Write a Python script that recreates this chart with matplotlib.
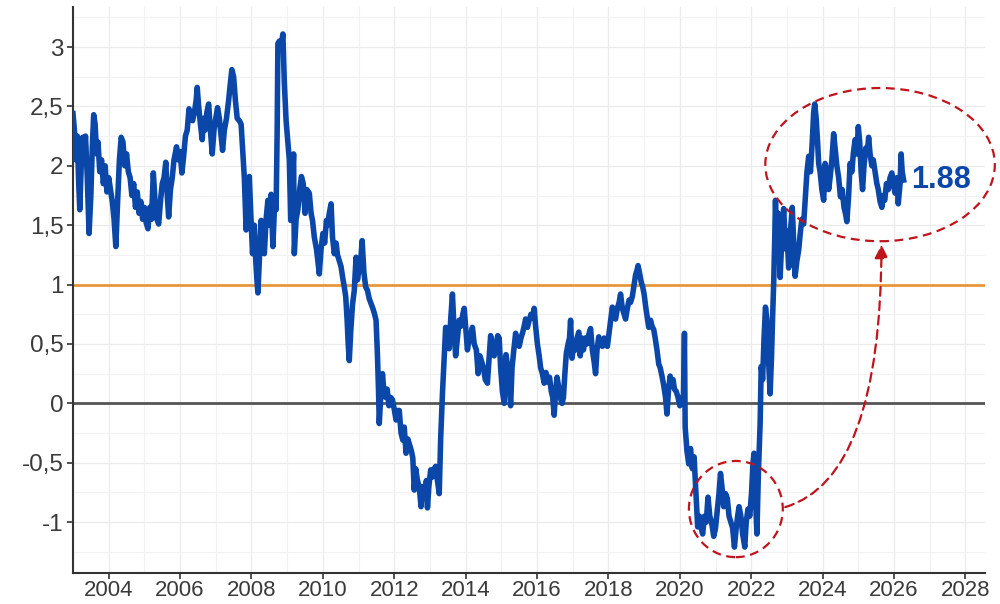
import matplotlib.pyplot as plt
from matplotlib.patches import Ellipse

plt.rcParams['font.family'] = ['Liberation Sans', 'DejaVu Sans']

# decimal year, value
t = [2003.00, 2003.04, 2003.08, 2003.12, 2003.16, 2003.19, 2003.23, 2003.27, 2003.31, 2003.35,
     2003.40, 2003.45, 2003.50, 2003.54, 2003.58, 2003.62, 2003.66, 2003.70, 2003.75, 2003.80,
     2003.85, 2003.90, 2003.95, 2004.00, 2004.05, 2004.10, 2004.15, 2004.20, 2004.25, 2004.30,
     2004.35, 2004.40, 2004.45, 2004.50, 2004.55, 2004.60, 2004.65, 2004.70, 2004.75, 2004.80,
     2004.85, 2004.90, 2004.95, 2005.00, 2005.05, 2005.10, 2005.15, 2005.20, 2005.25, 2005.30,
     2005.35, 2005.40, 2005.45, 2005.50, 2005.55, 2005.60, 2005.64, 2005.68, 2005.73, 2005.78,
     2005.83, 2005.90, 2005.95, 2006.00, 2006.05, 2006.10, 2006.15, 2006.20, 2006.25, 2006.30,
     2006.35, 2006.40, 2006.45, 2006.48, 2006.52, 2006.57, 2006.62, 2006.66, 2006.70, 2006.75,
     2006.80, 2006.85, 2006.90, 2006.95, 2007.00, 2007.05, 2007.10, 2007.15, 2007.19, 2007.24,
     2007.30, 2007.36, 2007.41, 2007.45, 2007.50, 2007.55, 2007.60, 2007.66, 2007.71, 2007.76,
     2007.80, 2007.85, 2007.90, 2007.94, 2007.98, 2008.03, 2008.08, 2008.12, 2008.15, 2008.18,
     2008.22, 2008.27, 2008.31, 2008.36, 2008.41, 2008.46, 2008.50, 2008.55, 2008.60, 2008.65,
     2008.69, 2008.72, 2008.74, 2008.78, 2008.83, 2008.88, 2008.92, 2008.97, 2009.02, 2009.06,
     2009.10, 2009.14, 2009.18, 2009.20, 2009.25, 2009.30, 2009.35, 2009.40, 2009.45, 2009.50,
     2009.55, 2009.62, 2009.67, 2009.71, 2009.76, 2009.82, 2009.86, 2009.90, 2009.95, 2010.00,
     2010.05, 2010.10, 2010.13, 2010.18, 2010.23, 2010.27, 2010.32, 2010.37, 2010.41, 2010.46,
     2010.51, 2010.56, 2010.60, 2010.64, 2010.68, 2010.71, 2010.74, 2010.78, 2010.83, 2010.88,
     2010.93, 2010.97, 2011.02, 2011.06, 2011.10, 2011.15, 2011.20, 2011.25, 2011.30, 2011.35,
     2011.40, 2011.45, 2011.49, 2011.53, 2011.56, 2011.58, 2011.62, 2011.67, 2011.71, 2011.76,
     2011.80, 2011.85, 2011.90, 2011.95, 2012.00, 2012.05, 2012.10, 2012.14, 2012.19, 2012.24,
     2012.28, 2012.33, 2012.38, 2012.43, 2012.48, 2012.52, 2012.56, 2012.60, 2012.65, 2012.70,
     2012.75, 2012.80, 2012.85, 2012.90, 2012.93, 2012.97, 2013.02, 2013.07, 2013.12, 2013.16,
     2013.21, 2013.26, 2013.30, 2013.35, 2013.40, 2013.44, 2013.49, 2013.54, 2013.58, 2013.63,
     2013.68, 2013.72, 2013.77, 2013.82, 2013.87, 2013.92, 2013.96, 2014.01, 2014.05, 2014.10,
     2014.15, 2014.19, 2014.24, 2014.30, 2014.35, 2014.40, 2014.45, 2014.50, 2014.55, 2014.61,
     2014.65, 2014.70, 2014.75, 2014.80, 2014.85, 2014.90, 2014.94, 2014.98, 2015.03, 2015.08,
     2015.13, 2015.18, 2015.22, 2015.26, 2015.30, 2015.35, 2015.40, 2015.45, 2015.50, 2015.55,
     2015.60, 2015.64, 2015.68, 2015.73, 2015.78, 2015.83, 2015.88, 2015.92, 2015.96, 2016.01,
     2016.06, 2016.10, 2016.15, 2016.20, 2016.25, 2016.30, 2016.35, 2016.40, 2016.44, 2016.48,
     2016.52, 2016.56, 2016.60, 2016.65, 2016.70, 2016.74, 2016.78, 2016.82, 2016.87, 2016.91,
     2016.94, 2016.98, 2017.03, 2017.08, 2017.12, 2017.17, 2017.21, 2017.26, 2017.30, 2017.35,
     2017.40, 2017.45, 2017.50, 2017.55, 2017.60, 2017.64, 2017.68, 2017.73, 2017.78, 2017.83,
     2017.88, 2017.93, 2017.97, 2018.02, 2018.06, 2018.11, 2018.15, 2018.20, 2018.25, 2018.30,
     2018.34, 2018.39, 2018.44, 2018.48, 2018.53, 2018.58, 2018.62, 2018.67, 2018.72, 2018.76,
     2018.80, 2018.83, 2018.87, 2018.92, 2018.96, 2019.00, 2019.05, 2019.09, 2019.13, 2019.18,
     2019.22, 2019.27, 2019.31, 2019.36, 2019.41, 2019.45, 2019.50, 2019.55, 2019.60, 2019.64,
     2019.68, 2019.73, 2019.77, 2019.81, 2019.85, 2019.90, 2019.95, 2020.00, 2020.05, 2020.10,
     2020.13, 2020.15, 2020.20, 2020.25, 2020.30, 2020.35, 2020.40, 2020.44, 2020.50, 2020.55,
     2020.60, 2020.64, 2020.69, 2020.74, 2020.79, 2020.84, 2020.89, 2020.95, 2021.00, 2021.05,
     2021.10, 2021.14, 2021.18, 2021.23, 2021.28, 2021.33, 2021.38, 2021.43, 2021.48, 2021.53,
     2021.58, 2021.62, 2021.66, 2021.71, 2021.76, 2021.82, 2021.86, 2021.91, 2021.96, 2022.01,
     2022.05, 2022.08, 2022.12, 2022.16, 2022.20, 2022.25, 2022.28, 2022.32, 2022.36, 2022.40,
     2022.44, 2022.48, 2022.53, 2022.57, 2022.60, 2022.63, 2022.66, 2022.68, 2022.72, 2022.76,
     2022.81, 2022.86, 2022.91, 2022.96, 2023.00, 2023.05, 2023.10, 2023.15, 2023.19, 2023.23,
     2023.28, 2023.33, 2023.38, 2023.42, 2023.47, 2023.52, 2023.56, 2023.61, 2023.66, 2023.71,
     2023.75, 2023.78, 2023.82, 2023.86, 2023.89, 2023.93, 2023.98, 2024.03, 2024.07, 2024.12,
     2024.17, 2024.21, 2024.26, 2024.31, 2024.35, 2024.40, 2024.45, 2024.50, 2024.55, 2024.60,
     2024.64, 2024.68, 2024.73, 2024.77, 2024.82, 2024.86, 2024.91, 2024.96, 2025.00, 2025.04,
     2025.08, 2025.12, 2025.16, 2025.21, 2025.25, 2025.29, 2025.33, 2025.38, 2025.42, 2025.47,
     2025.52, 2025.56, 2025.61, 2025.66, 2025.70, 2025.74, 2025.79, 2025.84, 2025.89, 2025.94,
     2025.98, 2026.03, 2026.08, 2026.12, 2026.17, 2026.20, 2026.23, 2026.27]

v = [2.44, 2.30, 2.05, 2.25, 1.85, 1.63, 2.00, 2.24, 2.10, 2.25,
     1.90, 1.43, 1.75, 2.15, 2.43, 2.35, 2.10, 2.20, 1.95, 2.05,
     1.85, 2.00, 1.78, 1.90, 1.80, 1.70, 1.55, 1.32, 1.70, 2.05,
     2.24, 2.20, 2.00, 2.10, 1.95, 1.90, 1.75, 1.85, 1.65, 1.78,
     1.60, 1.70, 1.55, 1.65, 1.52, 1.47, 1.65, 1.55, 1.94, 1.70,
     1.55, 1.51, 1.70, 1.85, 1.90, 2.03, 1.75, 1.57, 1.80, 1.90,
     2.05, 2.16, 2.05, 2.12, 1.94, 2.08, 2.25, 2.30, 2.48, 2.40,
     2.38, 2.45, 2.55, 2.66, 2.50, 2.35, 2.22, 2.40, 2.30, 2.45,
     2.52, 2.30, 2.10, 2.30, 2.40, 2.49, 2.40, 2.25, 2.13, 2.30,
     2.40, 2.55, 2.70, 2.81, 2.75, 2.55, 2.40, 2.38, 2.35, 2.10,
     1.90, 1.46, 1.75, 1.91, 1.60, 1.26, 1.50, 1.20, 1.05, 0.93,
     1.20, 1.54, 1.30, 1.26, 1.55, 1.71, 1.50, 1.76, 1.32, 1.70,
     1.63, 2.30, 3.03, 3.05, 3.00, 3.11, 2.70, 2.38, 2.20, 2.05,
     1.54, 1.80, 2.10, 1.26, 1.55, 1.63, 1.80, 1.91, 1.85, 1.60,
     1.80, 1.77, 1.60, 1.54, 1.40, 1.30, 1.20, 1.09, 1.30, 1.43,
     1.35, 1.54, 1.50, 1.60, 1.68, 1.40, 1.26, 1.35, 1.25, 1.20,
     1.15, 1.05, 0.98, 0.90, 0.70, 0.50, 0.36, 0.60, 0.83, 0.95,
     1.23, 1.04, 1.15, 1.20, 1.37, 1.10, 0.98, 0.95, 0.88, 0.84,
     0.80, 0.75, 0.70, 0.40, 0.10, -0.17, 0.05, 0.25, 0.10, 0.05,
     0.12, -0.02, 0.05, 0.03, -0.05, -0.14, -0.06, -0.06, -0.25, -0.31,
     -0.20, -0.42, -0.30, -0.35, -0.40, -0.46, -0.73, -0.55, -0.65, -0.70,
     -0.87, -0.70, -0.78, -0.65, -0.88, -0.70, -0.56, -0.62, -0.55, -0.53,
     -0.65, -0.76, -0.30, 0.08, 0.40, 0.64, 0.55, 0.46, 0.70, 0.92,
     0.60, 0.40, 0.55, 0.70, 0.65, 0.75, 0.80, 0.60, 0.45, 0.55,
     0.58, 0.64, 0.50, 0.45, 0.25, 0.40, 0.35, 0.30, 0.20, 0.17,
     0.35, 0.57, 0.45, 0.40, 0.50, 0.57, 0.55, 0.30, 0.10, 0.00,
     0.41, 0.30, 0.20, -0.02, 0.30, 0.45, 0.59, 0.50, 0.48, 0.55,
     0.60, 0.65, 0.71, 0.64, 0.70, 0.75, 0.72, 0.80, 0.65, 0.50,
     0.40, 0.30, 0.25, 0.17, 0.26, 0.18, 0.22, 0.10, 0.05, -0.10,
     0.10, 0.22, 0.15, 0.05, 0.00, 0.05, 0.25, 0.42, 0.50, 0.55,
     0.70, 0.38, 0.50, 0.45, 0.55, 0.60, 0.40, 0.55, 0.45, 0.55,
     0.50, 0.58, 0.63, 0.45, 0.35, 0.25, 0.45, 0.56, 0.50, 0.48,
     0.55, 0.50, 0.48, 0.60, 0.70, 0.81, 0.75, 0.71, 0.80, 0.85,
     0.92, 0.80, 0.75, 0.71, 0.80, 0.87, 0.85, 0.90, 1.00, 1.08,
     1.12, 1.16, 1.10, 1.02, 0.98, 0.92, 0.80, 0.72, 0.64, 0.70,
     0.65, 0.62, 0.55, 0.45, 0.33, 0.30, 0.23, 0.15, 0.05, -0.09,
     0.10, 0.23, 0.15, 0.20, 0.12, 0.10, 0.05, -0.02, 0.05, 0.00,
     0.59, -0.20, -0.40, -0.51, -0.38, -0.55, -0.45, -0.68, -1.04, -0.95,
     -1.05, -1.10, -0.95, -1.00, -0.79, -0.95, -1.00, -1.12, -1.05, -0.90,
     -0.75, -0.59, -0.70, -0.87, -0.76, -0.80, -0.95, -1.00, -1.05, -1.21,
     -1.05, -0.95, -0.87, -0.95, -1.10, -1.21, -1.00, -0.89, -0.95, -0.75,
     -0.50, -0.42, -0.80, -1.10, -0.60, -0.17, 0.31, 0.20, 0.55, 0.81,
     0.70, 0.40, 0.08, 0.40, 0.73, 1.01, 1.40, 1.71, 1.29, 1.60,
     1.06, 1.40, 1.64, 1.30, 1.45, 1.14, 1.45, 1.65, 1.35, 1.07,
     1.20, 1.29, 1.45, 1.55, 1.51, 1.75, 1.94, 2.08, 1.95, 2.20,
     2.45, 2.52, 2.40, 2.20, 2.02, 1.95, 1.80, 1.71, 2.02, 1.95,
     1.80, 1.90, 2.05, 2.27, 2.15, 2.00, 1.90, 1.74, 1.80, 1.65,
     1.60, 1.53, 1.75, 2.02, 1.95, 2.10, 2.22, 2.10, 2.33, 2.20,
     1.95, 1.80, 2.00, 2.15, 2.10, 2.24, 2.10, 2.00, 2.05, 1.95,
     1.85, 1.80, 1.70, 1.65, 1.75, 1.71, 1.85, 1.80, 1.90, 1.94,
     1.85, 1.77, 1.90, 1.68, 1.85, 2.10, 1.95, 1.88]

year_ticks = list(range(2004, 2029, 2))
y_ticks = [-1, -0.5, 0, 0.5, 1, 1.5, 2, 2.5, 3]
y_labels = ['-1', '-0,5', '0', '0,5', '1', '1,5', '2', '2,5', '3']
last_label = '1.88'

blue = '#0a47a9'
red = '#c0141c'
txt = '#3a3a3a'

fig = plt.figure(figsize=(10, 6.04), dpi=100)
ax = fig.add_axes([0.073, 0.051, 0.912, 0.937])

ax.set_xlim(2003.0, 2028.55)
ax.set_ylim(-1.43, 3.335)

ax.set_xticks(year_ticks)
ax.set_xticks(range(2003, 2029), minor=True)
ax.set_yticks(y_ticks)
ax.set_yticklabels(y_labels)
ax.set_yticks([-1.25, -0.75, -0.25, 0.25, 0.75, 1.25, 1.75, 2.25, 2.75, 3.25], minor=True)

ax.grid(which='major', color='#ebebeb', lw=0.9)
ax.grid(which='minor', color='#f2f2f2', lw=0.8)
ax.set_axisbelow(True)

for s in ['top', 'right']:
    ax.spines[s].set_visible(False)
for s in ['left', 'bottom']:
    ax.spines[s].set_color('#333333')
    ax.spines[s].set_linewidth(1.5)

ax.tick_params(which='major', direction='out', length=4, width=1.2, color='#333333',
               labelcolor=txt, pad=3)
ax.tick_params(axis='x', which='major', labelsize=16, pad=1)
ax.tick_params(axis='y', which='major', labelsize=17.5)
ax.tick_params(which='minor', length=0)

ax.axhline(1, color='#e8963c', lw=2.0, zorder=2)
ax.axhline(0, color='#555555', lw=2.0, zorder=2)

ax.plot(t, v, color=blue, lw=4.0, solid_joinstyle='round', zorder=3)

ax.text(2026.48, v[-1], last_label, color=blue, fontsize=22, fontweight='bold',
        va='center', ha='left')

# highlight ellipses
ax.add_patch(Ellipse((2025.61, 2.01), 6.43, 1.29, fill=False, ec=red, lw=1.6,
                     ls=(0, (4, 2.5)), clip_on=False, zorder=4))
ax.add_patch(Ellipse((2021.57, -0.89), 2.63, 0.81, fill=False, ec=red, lw=1.6,
                     ls=(0, (4, 2.5)), zorder=4))

ax.annotate('', xy=(2025.65, 1.36), xytext=(2022.88, -0.88),
            arrowprops=dict(arrowstyle='-|>,head_length=0.8,head_width=0.4',
                            connectionstyle='angle3,angleA=15,angleB=90',
                            color=red, lw=1.6, ls=(0, (4, 2.5))),
            zorder=4)

plt.savefig('out.png', dpi=100)
